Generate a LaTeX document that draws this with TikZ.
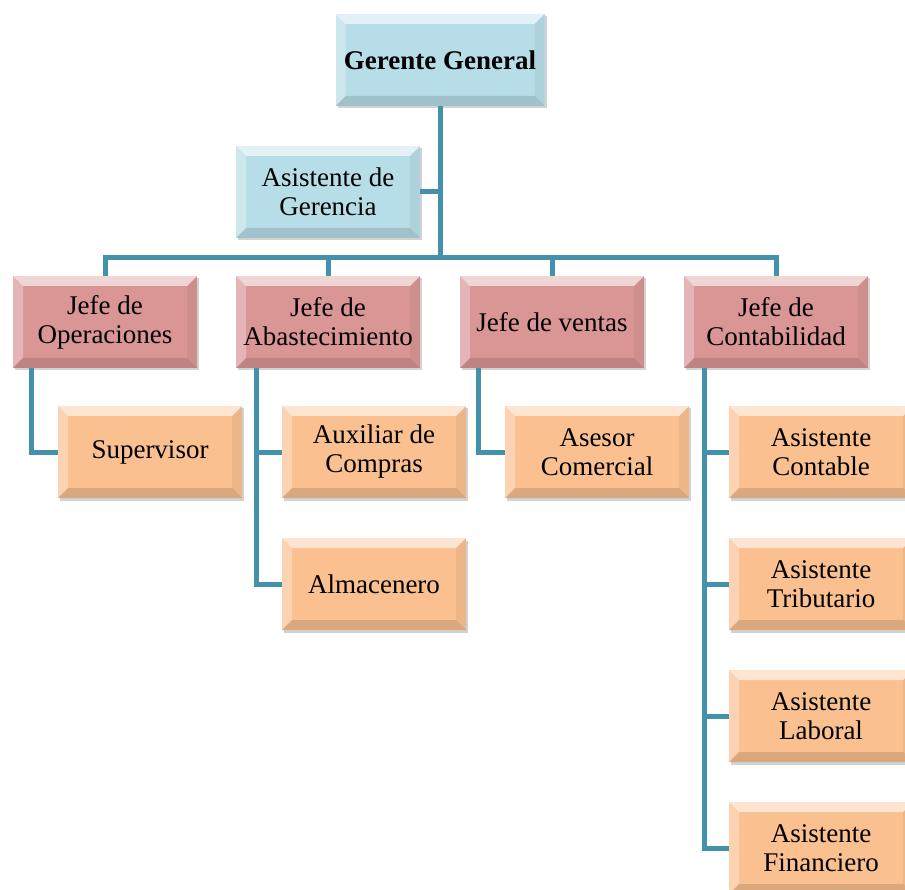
\documentclass[tikz,border=0pt]{standalone}
\usepackage{fontspec}
\setmainfont{Liberation Serif}
\usetikzlibrary{shadows,calc}
\definecolor{bluefill}{RGB}{183,222,232}
\definecolor{redfill}{RGB}{217,150,148}
\definecolor{orangefill}{RGB}{250,192,144}
\definecolor{linecol}{RGB}{66,146,172}
\tikzset{
  bevel/.style={path picture={
    \path (path picture bounding box.south west) coordinate (bsw)
          (path picture bounding box.north east) coordinate (bne);
    \fill[white,opacity=0.6] (bsw|-bne) -- (bne) -- ([shift={(-10pt,-10pt)}]bne) -- ([shift={(10pt,-10pt)}]bsw|-bne) -- cycle;
    \fill[white,opacity=0.3] (bsw) -- (bsw|-bne) -- ([shift={(10pt,-10pt)}]bsw|-bne) -- ([shift={(10pt,10pt)}]bsw) -- cycle;
    \fill[black,opacity=0.05] (bne) -- (bne|-bsw) -- ([shift={(-10pt,10pt)}]bne|-bsw) -- ([shift={(-10pt,-10pt)}]bne) -- cycle;
    \fill[black,opacity=0.12] (bsw) -- (bne|-bsw) -- ([shift={(-10pt,10pt)}]bne|-bsw) -- ([shift={(10pt,10pt)}]bsw) -- cycle;
  }},
  box/.style={rectangle, bevel, minimum width=184pt, minimum height=92pt, inner sep=0pt,
    align=center, font=\fontsize{27}{29}\selectfont,
    drop shadow={shadow xshift=2pt, shadow yshift=-2.5pt, opacity=0.35, fill=gray}},
  bluebox/.style={box, fill=bluefill},
  redbox/.style={box, fill=redfill},
  orangebox/.style={box, fill=orangefill},
  conn/.style={draw=linecol, line width=5pt}
}
\begin{document}
\begin{tikzpicture}[x=1pt,y=-1pt]
\useasboundingbox (0,0) rectangle (905,890);
\fill[white] (0,0) rectangle (905,890);
\coordinate (bus) at (440,258);
\node[bluebox, minimum width=209pt, font=\fontsize{27}{29}\selectfont\bfseries] (gg) at (440,60) {Gerente General};
\node[bluebox] (ag) at (328,192) {Asistente de\\Gerencia};
\node[redbox] (jo) at (105,322) {Jefe de\\Operaciones};
\node[redbox] (ja) at (328,322) {Jefe de\\Abastecimiento};
\node[redbox] (jv) at (552,322) {Jefe de ventas};
\node[redbox] (jc) at (776,322) {Jefe de\\Contabilidad};
\node[orangebox] (sup) at (150,452) {Supervisor};
\node[orangebox] (aux) at (374,452) {Auxiliar de\\Compras};
\node[orangebox] (alm) at (374,584) {Almacenero};
\node[orangebox] (ase) at (597,452) {Asesor\\Comercial};
\node[orangebox] (acon) at (821,452) {Asistente\\Contable};
\node[orangebox] (atri) at (821,584) {Asistente\\Tributario};
\node[orangebox] (alab) at (821,716) {Asistente\\Laboral};
\node[orangebox] (afin) at (821,848) {Asistente\\Financiero};
% connectors
\draw[conn] (gg.south) -- (bus);
\draw[conn] (ag.east) -- (ag.east -| bus);
\draw[conn] ([xshift=-2.5pt]jo.north |- bus) -- ([xshift=2.5pt]jc.north |- bus);
\draw[conn] (jo.north) -- (jo.north |- bus);
\draw[conn] (ja.north) -- (ja.north |- bus);
\draw[conn] (jv.north) -- (jv.north |- bus);
\draw[conn] (jc.north) -- (jc.north |- bus);
\coordinate (xo) at ([xshift=19pt]jo.south west);
\coordinate (xa) at ([xshift=21pt]ja.south west);
\coordinate (xv) at ([xshift=19pt]jv.south west);
\coordinate (xc) at ([xshift=21pt]jc.south west);
\draw[conn] (xo) |- (sup.west);
\draw[conn] (xa) |- (alm.west);
\draw[conn] (aux.west) -- (aux.west -| xa);
\draw[conn] (xv) |- (ase.west);
\draw[conn] (xc) |- (afin.west);
\draw[conn] (acon.west) -- (acon.west -| xc);
\draw[conn] (atri.west) -- (atri.west -| xc);
\draw[conn] (alab.west) -- (alab.west -| xc);
\end{tikzpicture}
\end{document}
